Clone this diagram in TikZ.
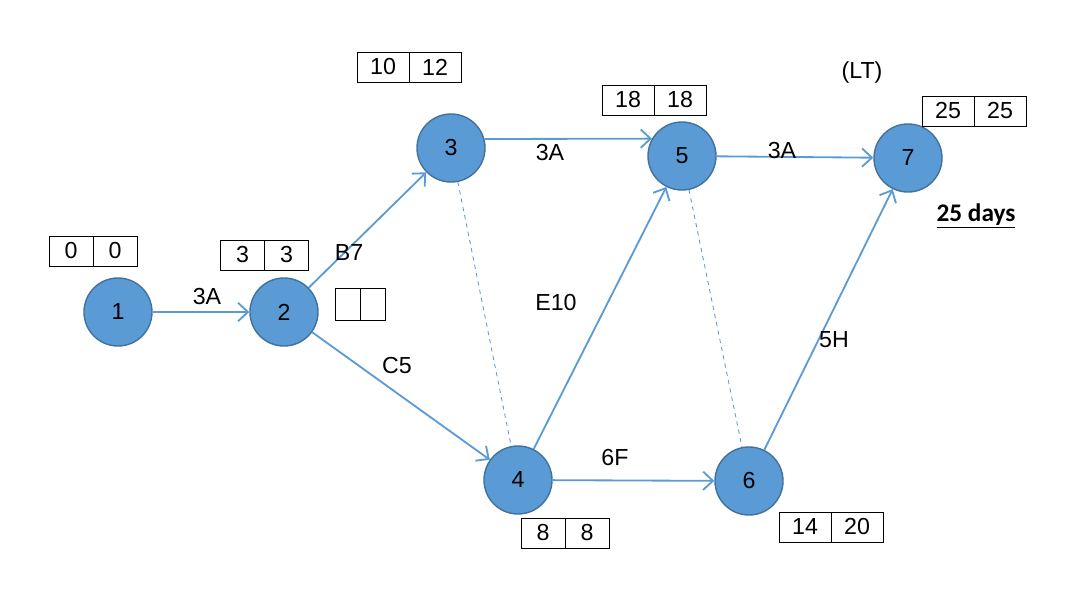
\documentclass[tikz,border=0pt]{standalone}
\usepackage{fontspec}
\setmainfont{Liberation Sans}
\newfontfamily\daysfont{Carlito}
\usetikzlibrary{positioning,arrows.meta}
\definecolor{evfill}{RGB}{91,155,213}
\definecolor{evline}{RGB}{65,113,156}
\definecolor{actline}{RGB}{91,155,213}
\begin{document}
\begin{tikzpicture}
	[
	x=0.025cm, y=-0.025cm,
	font=\fontsize{16.5}{19}\selectfont,
	ev/.style={draw = evline, fill = evfill, shape = circle, line width=1pt, minimum size=1.7cm, inner sep=0pt},
	cell/.style={draw = black, shape = rectangle, minimum width=1.1cm, minimum height=0.75cm, inner sep=0pt, outer sep=0pt, line width=0.6pt},
	wcell/.style={cell, minimum width=1.3cm},
	ecell/.style={cell, minimum width=0.625cm, minimum height=0.8cm},
	act/.style={->, actline, line width=1.3pt},
	dummy/.style={actline, dashed, line width=0.6pt},
	>={Straight Barb[length=7pt,width=13pt]}
	]
	\useasboundingbox (0,0) rectangle (1074,599);
	
	\node[ev](n1) at (118,312){1};
	\node[ev](n2) at (284,312){2};
	\node[ev](n3) at (451,148){3};
	\node[ev](n4) at (518,480){4};
	\node[ev](n5) at (682,156){5};
	\node[ev](n6) at (749,481){6};
	\node[ev](n7) at (908,158){7};
	
	\node[cell](t1a) at (71,251){0};
	\node[cell, right=0pt of t1a](t1b){0};
	\node[cell](t2a) at (242.5,255){3};
	\node[cell, right=0pt of t2a](t2b){3};
	\node[ecell](t0a) at (347.5,304){};
	\node[ecell, right=0pt of t0a](t0b){};
	\node[wcell](t3a) at (383,67){10};
	\node[wcell, right=0pt of t3a](t3b){12};
	\node[wcell](t5a) at (628,100){18};
	\node[wcell, right=0pt of t5a](t5b){18};
	\node[wcell](t7a) at (948,111){25};
	\node[wcell, right=0pt of t7a](t7b){25};
	\node[cell](t4a) at (543,533){8};
	\node[cell, right=0pt of t4a](t4b){8};
	\node[wcell](t6a) at (805,527){14};
	\node[wcell, right=0pt of t6a](t6b){20};
	
	\draw[act](n1) -- (n2);
	\draw[act](n2) -- (n3);
	\draw[act](n2) -- (n4);
	\draw[act](n3.15) -- (n5.150);
	\draw[act](n4) -- (n5);
	\draw[act](n4) -- (n6);
	\draw[act](n5) -- (n7);
	\draw[act](n6) -- (n7);
	\draw[dummy](n3) -- (n4);
	\draw[dummy](n5) -- (n6);
	
	\node[](l12) at (207,297){3A};
	\node[](l23) at (349,253){B7};
	\node[](l24) at (397,366){C5};
	\node[](l35) at (550,153){3A};
	\node[](l45) at (556,303){E10};
	\node[](l46) at (615,458){6F};
	\node[](l57) at (782,151){3A};
	\node[](l67) at (834,340){5H};
	\node[](lt) at (862,72){(LT)};
	\node[font=\daysfont\fontsize{18}{20}\selectfont\bfseries](days) at (976,216){\underline{25 days}};
\end{tikzpicture}
\end{document}
